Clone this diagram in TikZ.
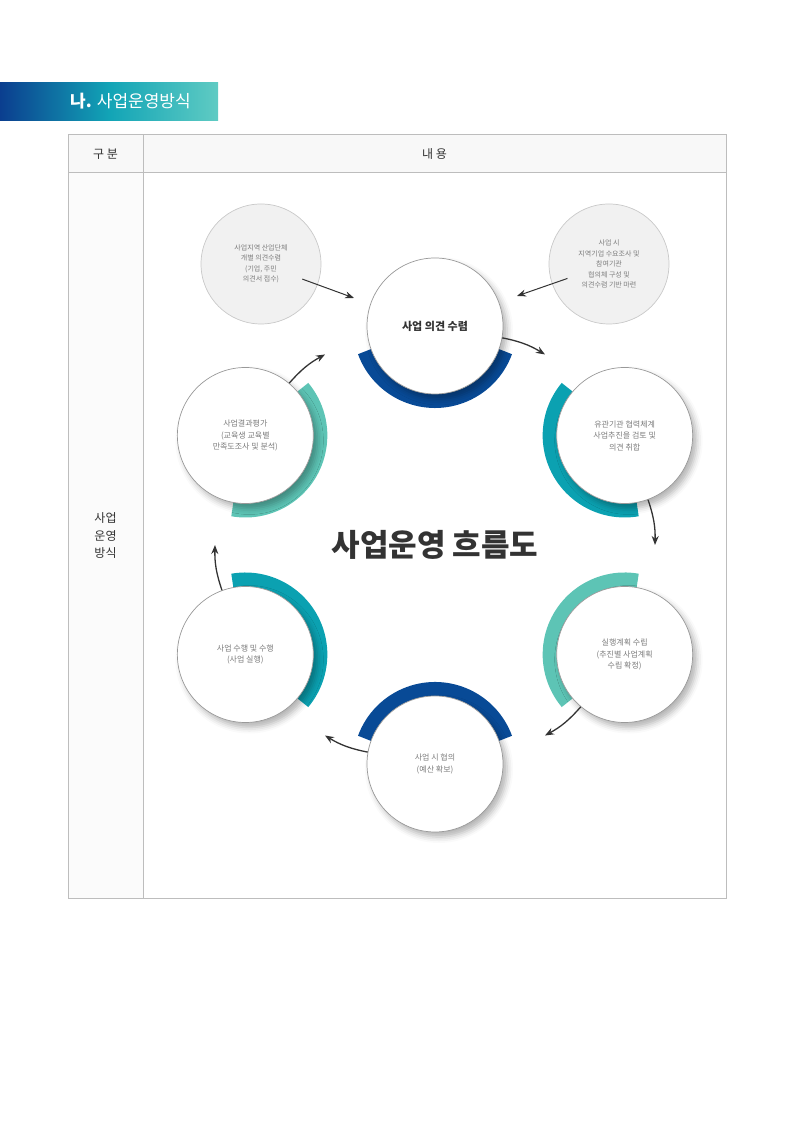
\documentclass[tikz,border=0pt]{standalone}
\usepackage{fontspec}
\setmainfont{Noto Sans CJK KR}
\usepackage{xcolor}
\usetikzlibrary{arrows.meta}
\usetikzlibrary{shadows.blur}
\usetikzlibrary{positioning}
\definecolor{bannerblue}{HTML}{0B3E8F}
\definecolor{bannerteal}{HTML}{12A4B6}
\definecolor{bannerlight}{HTML}{5FCBC3}
\definecolor{ringblue}{HTML}{084A96}
\definecolor{ringteal}{HTML}{0BA1B1}
\definecolor{ringmint}{HTML}{5DC4B5}
\definecolor{tableline}{HTML}{BDBDBD}
\definecolor{headfill}{HTML}{F8F8F8}
\definecolor{notefill}{HTML}{F1F1F1}
\definecolor{noteline}{HTML}{C9C9C9}
\definecolor{darktext}{HTML}{333333}
\definecolor{blurtext}{HTML}{7C7C7C}

\begin{document}
\begin{tikzpicture}[
    x=1pt, y=1pt,
    cell text/.style={text=darktext, font=\fontsize{12}{17.5}\selectfont, align=center},
    flow circle/.style={circle, draw=gray!80, line width=0.7pt, fill=white, minimum size=136pt, inner sep=0pt, align=center,
        text=blurtext, font=\fontsize{8}{11.5}\selectfont,
        blur shadow={shadow xshift=4pt, shadow yshift=-5pt, shadow blur radius=6pt, shadow opacity=30}},
    note circle/.style={circle, draw=noteline, line width=0.7pt, fill=notefill, minimum size=120pt, inner sep=0pt, align=center,
        text=blurtext, font=\fontsize{7}{10.5}\selectfont},
    ring arc/.style={line width=14pt},
    flow arrow/.style={-{Stealth[length=9pt,width=7pt]}, line width=1.3pt, draw=darktext},
    ]
\useasboundingbox (0,0) rectangle (794,1123);
% banner
\shade[left color=bannerblue, right color=bannerlight, middle color=bannerteal] (0,1002) rectangle (218,1040);
\node[anchor=base west, text=white, font=\fontsize{17}{20}\selectfont, inner sep=0pt] (banner) at (70,1015) {\textbf{나.} 사업운영방식};
% table
\fill[headfill] (68,950) rectangle (726,988);
\fill[headfill!60!white] (68,224) rectangle (143,950);
\draw[tableline, line width=1pt] (68,224) rectangle (726,988) (68,950) -- (726,950) (143,224) -- (143,988);
\node[cell text] (head left) at (105.5,969) {구 분};
\node[cell text] (head right) at (434.5,969) {내 용};
\node[cell text] (row label) at (105.5,587) {사업\\운영\\방식};
% flow
\node[text=darktext, font=\fontsize{31}{34}\selectfont\bfseries] (hub) at (435,578) {사업운영 흐름도};
\foreach \ang/\col in {90/ringblue, 30/ringteal, -30/ringmint, -90/ringblue, -150/ringteal, 150/ringmint}
  \draw[ring arc, draw=\col] (hub.center) ++(\ang:219) ++({\ang+110}:75) arc[start angle=\ang+110, end angle=\ang+250, radius=75];
\node[flow circle, text=darktext, font=\fontsize{11}{13}\selectfont\bfseries] (c1) at ([shift={(90:219)}]hub.center) {사업 의견 수렴};
\node[flow circle] (c2) at ([shift={(30:219)}]hub.center) {유관기관 협력체계\\사업추진을 검토 및\\의견 취합};
\node[flow circle] (c3) at ([shift={(-30:219)}]hub.center) {실행계획 수립\\(추진별 사업계획\\수립 확정)};
\node[flow circle] (c4) at ([shift={(-90:219)}]hub.center) {사업 시 협의\\(예산 확보)};
\node[flow circle] (c5) at ([shift={(-150:219)}]hub.center) {사업 수행 및 수행\\(사업 실행)};
\node[flow circle] (c6) at ([shift={(150:219)}]hub.center) {사업결과평가\\(교육생 교육별\\만족도조사 및 분석)};
\foreach \ang [count=\i, evaluate=\ang as \st using int(\ang-100)] in {90,30,-30,-90,-150,150} {
  \coordinate (a\i) at ([shift={({\ang-30}:220)}]hub.center);
  \draw[flow arrow] (c\i.\st) to[bend left=10] (a\i);
}
% notes
\node[note circle] (n1) at (261,859) {사업지역 산업단체\\개별 의견수렴\\(기업, 주민\\의견서 접수)};
\node[note circle] (n2) at (609,859) {사업 시\\지역기업 수요조사 및\\참여기관\\협의체 구성 및\\의견수렴 기반 마련};
\coordinate (t1) at (354,825);
\coordinate (t2) at (517,827);
\draw[flow arrow, line width=1pt, shorten <=44pt] (n1.center) -- (t1);
\draw[flow arrow, line width=1pt, shorten <=44pt] (n2.center) -- (t2);
\end{tikzpicture}
\end{document}
